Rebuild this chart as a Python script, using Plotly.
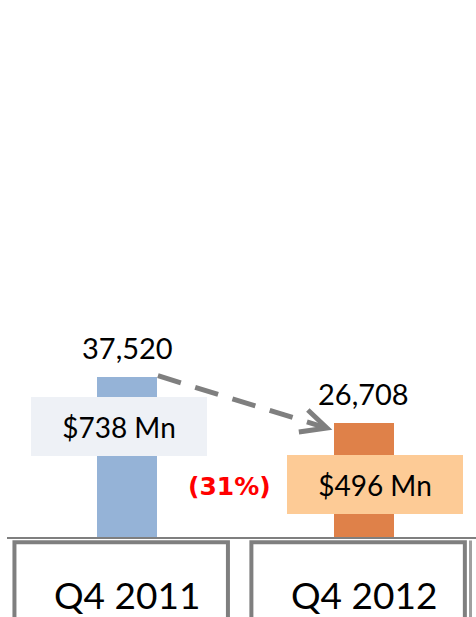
import plotly.graph_objects as go

# Data
periods = ["Q4 2011", "Q4 2012"]
units = [37520, 26708]
revenue_labels = ["$738 Mn", "$496 Mn"]
change_label = "(31%)"

bar_colors = ["#95B3D7", "#DF8149"]
box_colors = ["#EEF1F6", "#FDCB96"]
GRAY = "#7F7F7F"
FONT = "Lato"

BAR_W = 0.253
X_RANGE = [-0.536, 1.473]
Y_RANGE = [-18410, 125380]

fig = go.Figure()

fig.add_trace(go.Bar(
    x=list(range(len(periods))), y=units, width=BAR_W,
    marker=dict(color=bar_colors, line=dict(width=0)),
    showlegend=False, hoverinfo="skip",
))

annotations = []
shapes = []

# value labels above bars
for i, v in enumerate(units):
    annotations.append(dict(
        x=i, y=v, xref="x", yref="y", text=f"{v:,}", showarrow=False,
        yanchor="middle", yshift=30,
        font=dict(family=FONT, size=29, color="black"),
    ))

# revenue boxes
rev_pos = [(-8, 0.308), (11, 0.214)]
for i, (lbl, (xs, yp)) in enumerate(zip(revenue_labels, rev_pos)):
    annotations.append(dict(
        x=i, y=yp, xref="x", yref="paper", xshift=xs, text=lbl,
        showarrow=False, width=176, height=59, bgcolor=box_colors[i],
        borderpad=0, borderwidth=0, yanchor="middle",
        font=dict(family=FONT, size=28, color="black"),
    ))

# percentage change
annotations.append(dict(
    x=0.5, y=0.185, xref="x", yref="paper", xshift=-16, text=f"<b>{change_label}</b>",
    showarrow=False, font=dict(family="DejaVu Sans", size=25, color="#FF0000"),
))

# category boxes and labels
for i, p in enumerate(periods):
    shapes.append(dict(
        type="rect", xref="x", yref="paper", x0=i - 0.475, x1=i + 0.426,
        y0=0.121, y1=-0.2, line=dict(color=GRAY, width=4), layer="above",
    ))
    annotations.append(dict(
        x=i, y=0.036, xref="x", yref="paper", text=p, showarrow=False,
        yanchor="middle", font=dict(family=FONT, size=37, color="black"),
    ))

# baseline
shapes.append(dict(
    type="line", xref="paper", yref="y", x0=7 / 476, x1=1, y0=0, y1=0,
    line=dict(color=GRAY, width=2),
))
# edge of next box, cut off
shapes.append(dict(
    type="line", xref="paper", yref="paper", x0=470.5 / 476, x1=470.5 / 476,
    y0=0.124, y1=-0.1, line=dict(color="#A0A0A0", width=3),
))

# dashed connector arrow
tip_x, tip_y = 1 - BAR_W / 2 - 0.03, units[1] - 1070
shapes.append(dict(
    type="line", xref="x", yref="y", x0=BAR_W / 2 + 0.004, y0=units[0] + 300,
    x1=tip_x - 0.01, y1=tip_y + 150,
    line=dict(color=GRAY, width=5, dash="24px,15px"),
))
shapes.append(dict(
    type="path", xref="x", yref="y", xsizemode="pixel", ysizemode="pixel",
    xanchor=tip_x, yanchor=tip_y, path="M -19,18 L 0,0 L -28,-4",
    line=dict(color=GRAY, width=5),
))

fig.update_layout(
    width=476, height=617, margin=dict(l=0, r=0, t=0, b=0),
    paper_bgcolor="white", plot_bgcolor="white",
    xaxis=dict(range=X_RANGE, visible=False, fixedrange=True),
    yaxis=dict(range=Y_RANGE, visible=False, fixedrange=True),
    annotations=annotations, shapes=shapes,
    bargap=0,
)

fig.write_html("out.html", config={"displayModeBar": False},
               post_script="document.body.style.margin='0';")
